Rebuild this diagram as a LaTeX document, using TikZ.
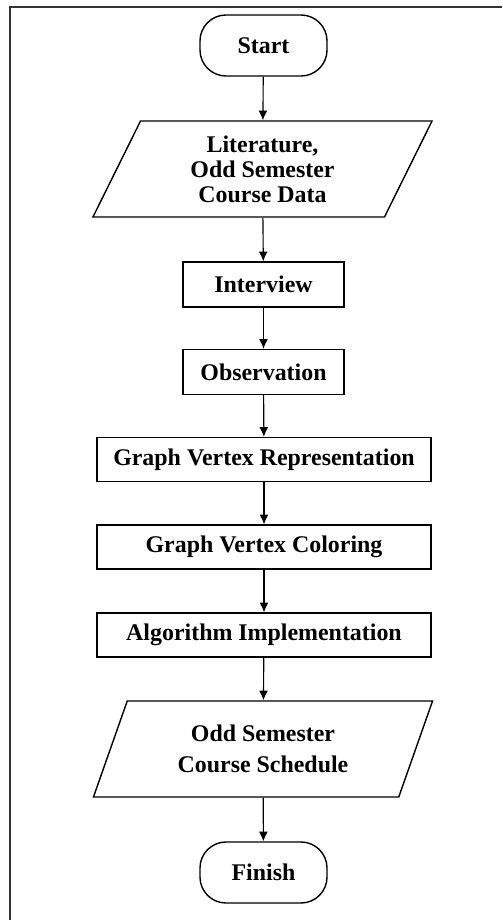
\documentclass[tikz,border=0pt]{standalone}
\usepackage{fontspec}
\setmainfont{Liberation Serif}
\usetikzlibrary{arrows.meta,shapes.geometric}

\begin{document}
\begin{tikzpicture}[x=0.025cm,y=-0.025cm,>={Latex[length=2.4mm,width=2.2mm]},
  every node/.style={font=\bfseries\fontsize{17}{17.8}\selectfont,align=center,inner sep=0pt},
  term/.style={draw,line width=1pt,rounded corners=0.65cm,minimum width=3.175cm,minimum height=1.525cm},
  io/.style={draw,line width=1pt,trapezium,trapezium left angle=54.6,trapezium right angle=125.4,
    trapezium stretches body,minimum width=8.475cm,minimum height=2.4cm},
  small/.style={draw,line width=1pt,minimum width=4.025cm,minimum height=1.125cm},
  wide/.style={draw,line width=1pt,minimum width=8.35cm,minimum height=1.1cm}]
\useasboundingbox (0,0) rectangle (502,920);
\draw[line width=1.2pt,black!80] (10,920)--(10,7)--(502,7);
\node[term] (start) at(263.5,45.5){Start};
\node[io] (lit) at(262.5,169){Literature,\\Odd Semester\\Course Data};
\node[small] (interview) at(263.5,284.5){Interview};
\node[small] (observ) at(263.5,372){Observation};
\node[wide] (repr) at(264,459.5){Graph Vertex Representation};
\node[wide] (color) at(264,547){Graph Vertex Coloring};
\node[wide] (algo) at(264,635){Algorithm Implementation};
\node[io] (sched) at(263,749){Odd Semester\\[4pt]Course Schedule};
\node[term] (finish) at(263.5,872.5){Finish};
% arrows down the chart
\foreach \a/\b in {start/lit,lit/interview,interview/observ,observ/repr,repr/color,color/algo,algo/sched,sched/finish}
  \draw[->,line width=0.8pt] (\a)--(\b);
\end{tikzpicture}
\end{document}
